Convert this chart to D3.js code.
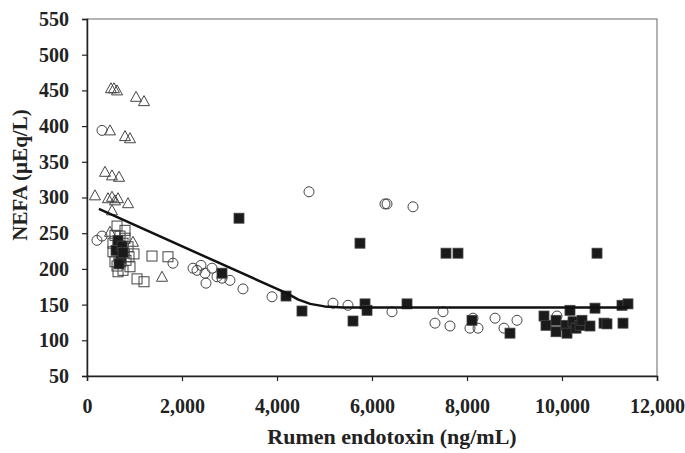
<!DOCTYPE html>
<html>
<head>
<meta charset="utf-8">
<script src="https://cdn.jsdelivr.net/npm/d3@7/dist/d3.min.js"></script>
<style>
  body { margin: 0; background: #fff; }
  text { font-family: "Liberation Serif", "Times New Roman", serif; font-weight: bold; fill: #222; }
</style>
</head>
<body>
<div id="chart"></div>
<script>
// ---- data ----
var xTicks = [0, 2000, 4000, 6000, 8000, 10000, 12000];
var yTicks = [50, 100, 150, 200, 250, 300, 350, 400, 450, 500, 550];

// open triangles [endotoxin, NEFA]
var triangles = [
  [505,453],[568,453],[632,450],[1032,441],[1200,435],[484,394],[800,386],[905,383],
  [379,336],[526,331],[674,329],[168,303],[442,299],[526,301],[589,296],[653,299],
  [863,292],[526,282],[484,252],[968,238],[1579,189]
];
// open circles
var circles = [
  [316,394],[210,240],[316,246],[1810,208],[2232,201],[2316,198],[2400,205],[2484,194],
  [2632,201],[2737,189],[2505,180],[2842,187],[3010,184],[3284,172],[3895,161],[4674,308],
  [6274,291],[6316,291],[6863,287],[5179,152],[5495,149],[6421,140],[7495,140],[7326,124],
  [7642,120],[8126,131],[8063,117],[8232,117],[8590,131],[8779,117],[9053,128],[9895,134]
];
// open squares
var squares = [
  [632,260],[800,254],[989,221],[1368,218],[1705,217],[905,203],[653,196],[1053,186],
  [1200,182],[589,247],[695,246],[800,243],[547,236],[653,233],[758,236],[863,231],
  [547,224],[674,219],[779,222],[589,210],[716,210],[821,212],[632,204],[758,198],
  [674,229],[884,217]
];
// filled squares
var filled = [
  [653,240],[716,215],[611,226],[737,232],[674,207],[758,223],
  [3200,271],[2842,194],[4190,162],[4526,141],[5747,236],[7558,222],[7810,222],
  [5853,151],[5895,142],[5600,127],[6737,151],[8105,128],[8905,110],
  [9621,134],[9663,121],[9874,128],[9874,112],[10084,121],[10105,110],[10168,142],
  [10232,126],[10295,117],[10379,121],[10421,128],[10589,120],[10695,145],[10737,222],
  [10884,124],[10947,123],[11263,149],[11389,151],[11284,124]
];
// fitted broken-line
var fit = [[250,284],[4200,166],[4450,157],[4700,151],[5000,147.5],[5400,146],[11400,146]];

// ---- layout ----
var W = 685, H = 453;
var svg = d3.select("#chart").append("svg").attr("width", W).attr("height", H);

var x = d3.scaleLinear().domain([0, 12000]).range([87, 657]);
var y = d3.scaleLinear().domain([50, 550]).range([376, 19]);

// plot frame
svg.append("rect")
  .attr("x", x(0)).attr("y", y(550))
  .attr("width", x(12000) - x(0)).attr("height", y(50) - y(550))
  .attr("fill", "none").attr("stroke", "#666").attr("stroke-width", 1);

var fmt = d3.format(",");

var xAxis = svg.append("g").attr("transform", "translate(0," + y(50) + ")")
  .call(d3.axisBottom(x).tickValues(xTicks).tickFormat(fmt).tickSize(5).tickPadding(18));
var yAxis = svg.append("g").attr("transform", "translate(" + x(0) + ",0)")
  .call(d3.axisLeft(y).tickValues(yTicks).tickSize(5).tickPadding(13));

[xAxis, yAxis].forEach(function(g){
  g.select(".domain").attr("stroke", "#222").attr("stroke-width", 1.5);
  g.selectAll(".tick line").attr("stroke", "#222").attr("stroke-width", 1.2);
  g.selectAll("text").style("font-size", "20px").attr("fill", "#222");
});

// markers
var tri = function(d){
  var cx = x(d[0]), cy = y(d[1]);
  return "M" + cx + "," + (cy - 5.5) + "L" + (cx + 5.5) + "," + (cy + 4.5) + "L" + (cx - 5.5) + "," + (cy + 4.5) + "Z";
};

svg.append("g").selectAll("path").data(triangles).enter().append("path")
  .attr("d", tri).attr("fill", "none").attr("stroke", "#444").attr("stroke-width", 1);

svg.append("g").selectAll("circle").data(circles).enter().append("circle")
  .attr("cx", function(d){ return x(d[0]); })
  .attr("cy", function(d){ return y(d[1]); })
  .attr("r", 5).attr("fill", "none").attr("stroke", "#444").attr("stroke-width", 1);

svg.append("g").selectAll("rect").data(squares).enter().append("rect")
  .attr("x", function(d){ return x(d[0]) - 5; })
  .attr("y", function(d){ return y(d[1]) - 5; })
  .attr("width", 10).attr("height", 10)
  .attr("fill", "none").attr("stroke", "#444").attr("stroke-width", 1);

svg.append("g").selectAll("rect").data(filled).enter().append("rect")
  .attr("x", function(d){ return x(d[0]) - 5; })
  .attr("y", function(d){ return y(d[1]) - 5; })
  .attr("width", 10).attr("height", 10)
  .attr("fill", "#1a1a1a").attr("stroke", "#444").attr("stroke-width", 0.8);

// fitted line
var line = d3.line().x(function(d){ return x(d[0]); }).y(function(d){ return y(d[1]); });
svg.append("path").datum(fit).attr("d", line)
  .attr("fill", "none").attr("stroke", "#111").attr("stroke-width", 2.5)
  .attr("stroke-linejoin", "round");

// axis titles
svg.append("text").attr("x", 392).attr("y", 444).attr("text-anchor", "middle")
  .style("font-size", "22px").text("Rumen endotoxin (ng/mL)");
svg.append("text").attr("transform", "translate(27,175) rotate(-90)").attr("text-anchor", "middle")
  .style("font-size", "21px").text("NEFA (µEq/L)");
</script>
</body>
</html>
